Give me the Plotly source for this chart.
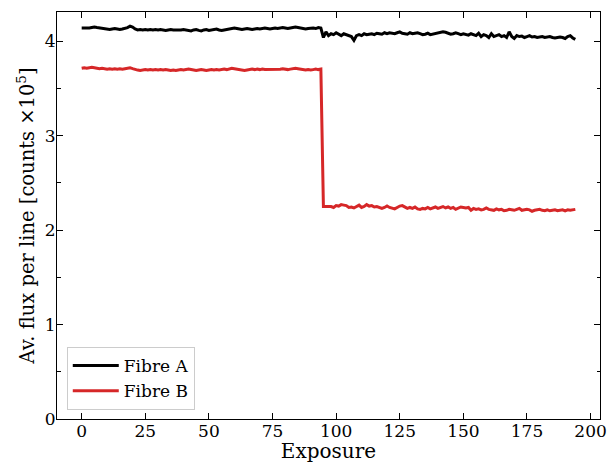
import plotly.graph_objects as go

exposure = list(range(195))

fibre_a = [
    4.14, 4.14, 4.135, 4.14, 4.145, 4.15, 4.145, 4.14, 4.135, 4.13,
    4.13, 4.125, 4.13, 4.135, 4.13, 4.125, 4.13, 4.135, 4.145, 4.16,
    4.15, 4.13, 4.12, 4.125, 4.12, 4.125, 4.12, 4.125, 4.12, 4.125,
    4.12, 4.125, 4.12, 4.115, 4.12, 4.125, 4.12, 4.12, 4.115, 4.12,
    4.125, 4.12, 4.115, 4.11, 4.12, 4.125, 4.115, 4.11, 4.12, 4.125,
    4.115, 4.12, 4.125, 4.13, 4.12, 4.115, 4.12, 4.125, 4.13, 4.135,
    4.14, 4.135, 4.13, 4.125, 4.13, 4.135, 4.13, 4.125, 4.13, 4.135,
    4.13, 4.135, 4.14, 4.135, 4.13, 4.135, 4.14, 4.135, 4.14, 4.145,
    4.14, 4.135, 4.14, 4.145, 4.15, 4.145, 4.14, 4.135, 4.13, 4.135,
    4.14, 4.14, 4.135, 4.145, 4.14,
    4.04, 4.10, 4.06, 4.08, 4.07,
    4.09, 4.07, 4.06, 4.08, 4.07, 4.06, 4.05, 4.01, 4.06, 4.07,
    4.06, 4.08, 4.07, 4.075, 4.08, 4.07, 4.085, 4.08, 4.075, 4.09,
    4.08, 4.09, 4.085, 4.08, 4.09, 4.10, 4.085, 4.08, 4.075, 4.09,
    4.08, 4.085, 4.09, 4.08, 4.07, 4.075, 4.085, 4.07, 4.075, 4.08,
    4.085, 4.09, 4.10, 4.095, 4.085, 4.075, 4.08, 4.09, 4.08, 4.07,
    4.08, 4.075, 4.065, 4.08, 4.07, 4.06, 4.085, 4.05, 4.07, 4.06,
    4.04, 4.08, 4.05, 4.06, 4.07, 4.05, 4.06, 4.04, 4.10, 4.05,
    4.03, 4.06, 4.05, 4.055, 4.04, 4.05, 4.06, 4.045, 4.05, 4.04,
    4.045, 4.05, 4.04, 4.045, 4.05, 4.04, 4.035, 4.04, 4.045, 4.04,
    4.03, 4.05, 4.06, 4.035, 4.02,
]

fibre_b = [
    3.715, 3.72, 3.715, 3.72, 3.725, 3.72, 3.715, 3.71, 3.715, 3.71,
    3.705, 3.71, 3.705, 3.71, 3.705, 3.71, 3.705, 3.71, 3.715, 3.72,
    3.71, 3.70, 3.695, 3.69, 3.695, 3.70, 3.695, 3.70, 3.695, 3.70,
    3.695, 3.70, 3.695, 3.70, 3.695, 3.69, 3.695, 3.69, 3.695, 3.70,
    3.695, 3.70, 3.705, 3.70, 3.695, 3.69, 3.695, 3.70, 3.695, 3.69,
    3.695, 3.70, 3.695, 3.70, 3.695, 3.70, 3.705, 3.70, 3.705, 3.715,
    3.71, 3.705, 3.70, 3.695, 3.69, 3.695, 3.70, 3.705, 3.70, 3.705,
    3.70, 3.705, 3.70, 3.70, 3.705, 3.70, 3.705, 3.70, 3.705, 3.71,
    3.705, 3.70, 3.705, 3.71, 3.715, 3.71, 3.705, 3.70, 3.695, 3.70,
    3.695, 3.70, 3.705, 3.70, 3.705,
    2.25, 2.25, 2.255, 2.25, 2.24,
    2.26, 2.255, 2.27, 2.265, 2.26, 2.24, 2.245, 2.235, 2.25, 2.265,
    2.24, 2.25, 2.27, 2.255, 2.26, 2.245, 2.25, 2.24, 2.23, 2.24,
    2.255, 2.24, 2.235, 2.225, 2.24, 2.255, 2.26, 2.245, 2.23, 2.24,
    2.23, 2.245, 2.225, 2.22, 2.23, 2.225, 2.24, 2.225, 2.235, 2.245,
    2.23, 2.24, 2.25, 2.235, 2.245, 2.23, 2.24, 2.22, 2.235, 2.245,
    2.24, 2.235, 2.24, 2.21, 2.23, 2.22, 2.225, 2.215, 2.22, 2.235,
    2.22, 2.215, 2.21, 2.225, 2.215, 2.22, 2.205, 2.21, 2.22, 2.215,
    2.21, 2.22, 2.23, 2.21, 2.215, 2.22, 2.215, 2.20, 2.21, 2.215,
    2.22, 2.21, 2.205, 2.215, 2.205, 2.21, 2.215, 2.205, 2.21, 2.215,
    2.205, 2.215, 2.21, 2.215, 2.22,
]

x_ticks = [0, 25, 50, 75, 100, 125, 150, 175, 200]
y_ticks = [0, 1, 2, 3, 4]

FONT = "DejaVu Serif"

fig = go.Figure()
fig.add_trace(go.Scatter(x=exposure, y=fibre_a, mode="lines", name="Fibre A",
                         line=dict(color="black", width=3)))
fig.add_trace(go.Scatter(x=exposure, y=fibre_b, mode="lines", name="Fibre B",
                         line=dict(color="#d62728", width=3)))

axis_common = dict(
    showline=True, linecolor="black", linewidth=1, mirror="ticks",
    ticks="inside", ticklen=6, tickwidth=1, tickcolor="black",
    showgrid=False, zeroline=False, automargin=False,
    tickfont=dict(family=FONT, size=17, color="black"),
)

fig.update_layout(
    width=614, height=463,
    margin=dict(l=57, r=14, t=12, b=44),
    paper_bgcolor="white", plot_bgcolor="white",
    font=dict(family=FONT, color="black"),
    xaxis=dict(range=[-9.7, 203.7], tickvals=x_ticks, ticklabelstandoff=-3,
               title=dict(text="Exposure", font=dict(family=FONT, size=20), standoff=5),
               **axis_common),
    yaxis=dict(range=[0, 4.31], tickvals=y_ticks, ticklabelstandoff=-3,
               minor=dict(dtick=0.5, ticks="inside", ticklen=3.5, tickcolor="black"),
               title=dict(text="Av. flux per line [counts ×10<sup>5</sup>]",
                          font=dict(family=FONT, size=19.5), standoff=4),
               **axis_common),
    legend=dict(x=0.018, y=0.022, xanchor="left", yanchor="bottom",
                bordercolor="#cccccc", borderwidth=1, bgcolor="rgba(255,255,255,0.8)",
                font=dict(family=FONT, size=17, color="black"),
                itemwidth=46, tracegroupgap=0),
    showlegend=True,
)

fig.write_html("out.html", post_script="document.body.style.margin='0';",
               config={"displayModeBar": False})
